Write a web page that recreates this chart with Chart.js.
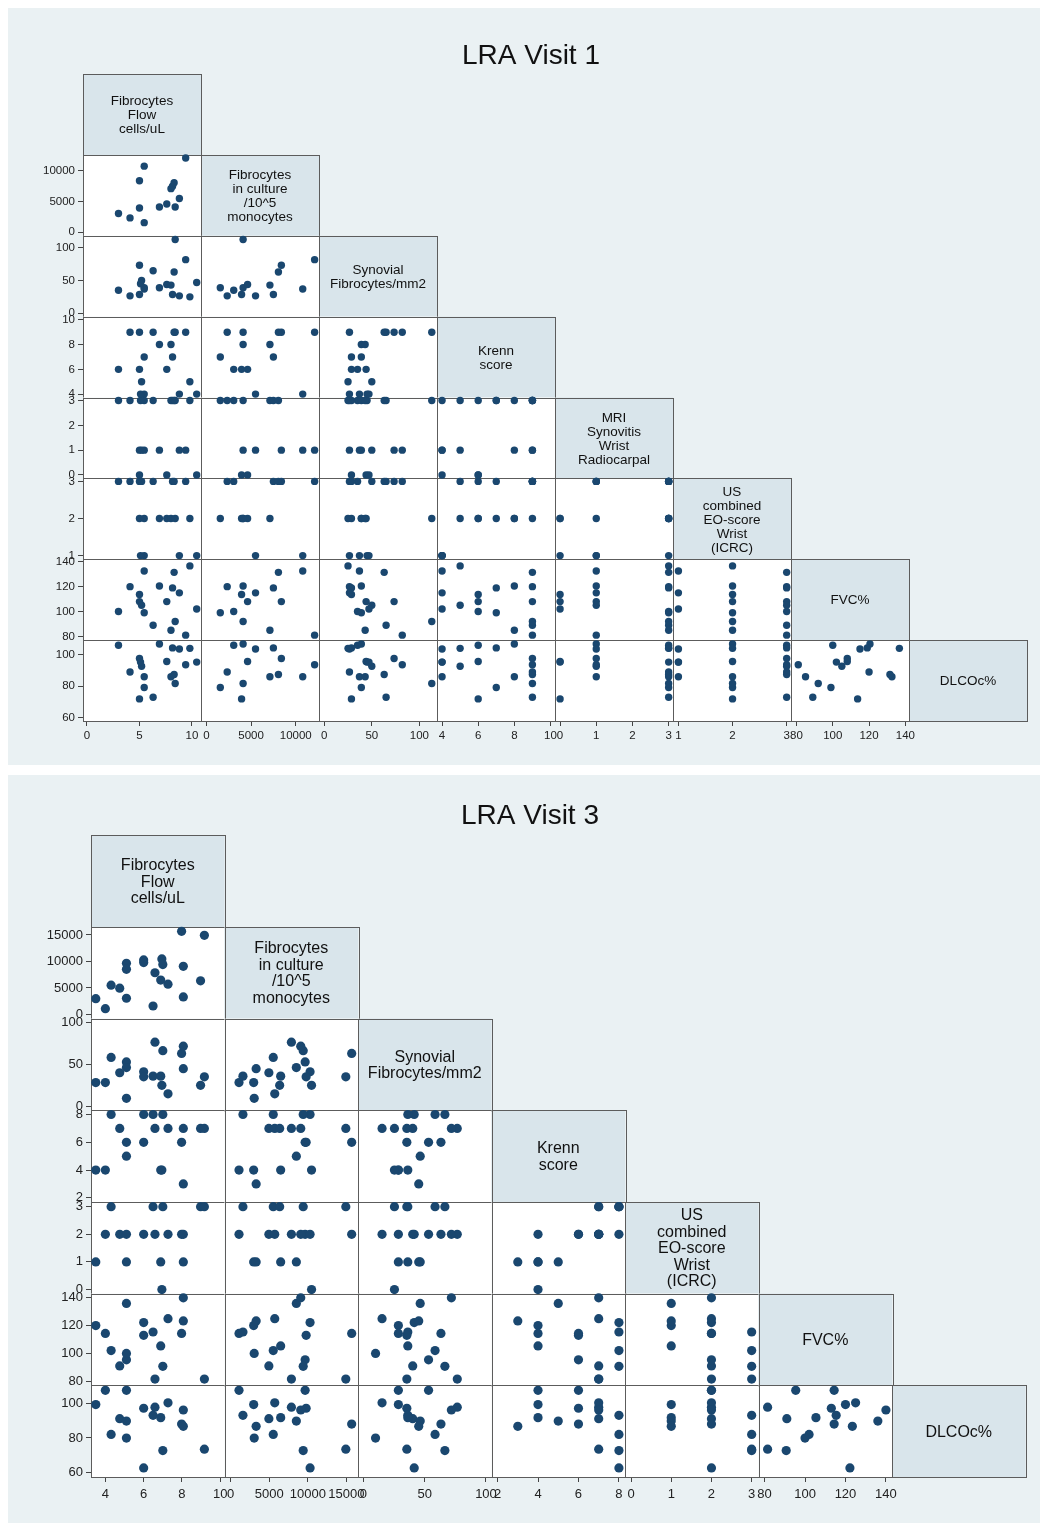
<!DOCTYPE html>
<html>
<head>
<meta charset="utf-8">
<title>LRA Visit 1 / LRA Visit 3</title>
<script src="https://cdn.jsdelivr.net/npm/chart.js@4.4.1/dist/chart.umd.min.js"></script>
<style>
    body { margin: 0; background: #fff; width: 1041px; height: 1523px; overflow: hidden; }
    .panel { position: absolute; left: 8px; width: 1032px; background: #eaf1f3; }
    #p1 { top: 8px; height: 757px; }
    #p2 { top: 775px; height: 748px; }
    canvas { display: block; }
</style>
</head>
<body>
<div class="panel" id="p1"><canvas id="visit1" width="1032" height="757"></canvas></div>
<div class="panel" id="p2"><canvas id="visit3" width="1032" height="748"></canvas></div>
<script>
Chart.defaults.font.family = "'Liberation Sans', Arial, sans-serif";
Chart.defaults.color = '#222';
Chart.defaults.animation = false;

/****************************** LRA Visit 1 ******************************/
// one entry per patient, null = not measured
var v1Names = [
    ['Fibrocytes', 'Flow', 'cells/uL'],
    ['Fibrocytes', 'in culture', '/10^5', 'monocytes'],
    ['Synovial', 'Fibrocytes/mm2'],
    ['Krenn', 'score'],
    ['MRI', 'Synovitis', 'Wrist', 'Radiocarpal'],
    ['US', 'combined', 'EO-score', 'Wrist', '(ICRC)'],
    ['FVC%'],
    ['DLCOc%']
];
var v1Flow     = [3.0, 4.1, 5.0, 5.0, 5.45, 5.45, 5.2, 5.1, 6.3, 6.9, 7.6, 8.0, 8.15, 8.3, 8.4, 8.8, 9.4, 9.8, 10.45];
var v1Culture  = [3060, 2330, 3940, 8390, 10780, 1560, null, null, null, 4110, 4610, 7110, 7500, 8060, 4110, 5500, 12110, null, null];
var v1Synovial = [35, 26.5, 28.6, 73.4, 37, 39, 50, 45, 65, 39, 44, 43, 28.6, 63, 113, 26.5, 82, 25, 47];
var v1Krenn    = [6, 9, 6, 9, 4, 7, 5, 4, 9, 8, 6, 8, 7, 9, 9, 4, 9, 5, 4];
var v1Mri      = [3, 3, 0, 1, 1, 3, 1, 3, 3, 1, 0, 3, 3, 3, 3, 1, 1, 3, 0];
var v1Us       = [3, 3, 2, 3, 1, 2, 3, 1, 3, 2, 2, 2, 3, 3, 2, 1, 3, 2, 1];
var v1Fvc      = [100, 120, 113.7, 108, 132.6, 99, 105, null, 89, 120.5, 108, 85, 119, 131.5, 92, 115, 81, 136.7, 102];
var v1Dlco     = [106, 89, 72, 97.6, 86, 79.2, 92.7, 95.3, 73, 106.8, 95.7, 86, 104.3, 87.4, 81.7, 103.6, 93.6, 104, 95.3];

var v1Ticks  = [[0, 5, 10], [0, 5000, 10000], [0, 50, 100], [4, 6, 8, 10], [0, 1, 2, 3], [1, 2, 3], [80, 100, 120, 140], [60, 80, 100]];
var v1Limits = [[-0.38, 10.86], [-600, 12600], [-5.5, 118.5], [3.72, 10.25], [-0.14, 3.12], [0.9, 3.08], [77, 142], [58, 109.2]];

/****************************** LRA Visit 3 ******************************/
var v3Names = [
    ['Fibrocytes', 'Flow', 'cells/uL'],
    ['Fibrocytes', 'in culture', '/10^5', 'monocytes'],
    ['Synovial', 'Fibrocytes/mm2'],
    ['Krenn', 'score'],
    ['US', 'combined', 'EO-score', 'Wrist', '(ICRC)'],
    ['FVC%'],
    ['DLCOc%']
];
var v3Flow     = [3.5, 4.0, 4.3, 4.75, 5.1, 5.1, 5.1, 6.0, 6.0, 6.49, 6.59, 6.89, 6.95, 7.0, 7.27, 7.98, 8.07, 8.07, 8.97, 9.17];
var v3Culture  = [2980, 1080, 5520, 4950, 9650, 8510, 3050, 10290, 9780, 1590, 7870, 6480, 10480, 9400, 5710, 15680, 9080, 3300, 6350, 14920];
var v3Synovial = [28.6, 28.6, 58.5, 40.3, 53.2, 46.4, 10, 41.5, 35.5, 36.3, 76.6, 36.3, 25.4, 66.5, 15.3, 63.3, 71.8, 45.2, 25.4, 35.5];
var v3Krenn    = [4, 4, 8, 7, 6, 5, null, 8, 6, 8, 7, 4, 4, 8, 7, 6, 7, 3, 7, 7];
var v3Us       = [1, 2, 3, 2, 2, 1, null, 2, null, 3, 2, 1, 0, 3, 2, 2, 2, 1, 3, 3];
var v3Fvc      = [120, 114.4, 102, 91, 95.4, 136, 100, 122.2, 113, 115.4, 81.5, 105.4, null, 90.7, 125, 114.4, 140, 123.4, null, 81.5];
var v3Dlco     = [99.2, 107.4, 82, 91.1, 107.4, 89.7, 79.9, 62.7, 97.1, 93, 97.7, 91.7, null, 72.7, 100.2, 88, 96.1, 86.7, null, 73.5];

var v3Ticks  = [[4, 6, 8, 10], [0, 5000, 10000, 15000], [0, 50, 100], [2, 4, 6, 8], [0, 1, 2, 3], [80, 100, 120, 140], [60, 80, 100]];
var v3Limits = [[3.25, 10.22], [-800, 16500], [-4.3, 104.5], [1.7, 8.3], [-0.15, 3.17], [77, 143], [57.5, 110.3]];

var markerColor = '#1a476f';

/*************************************************************************/

// box of cell (row i, col j) taken from the stacked scales
function cellBox(chart, n, i, j) {
    var colW = chart.scales.x0.right - chart.scales.x0.left;
    var rowH = chart.scales.y1.bottom - chart.scales.y1.top;
    var l = j < n - 1 ? chart.scales['x' + j].left : chart.scales['x' + (n - 2)].right;
    var r = j < n - 1 ? chart.scales['x' + j].right : l + colW;
    var t = i > 0 ? chart.scales['y' + i].top : chart.scales.y1.top - rowH;
    var b = i > 0 ? chart.scales['y' + i].bottom : chart.scales.y1.top;
    return {l: l, t: t, r: r, b: b};
}

// white cells, frames, the grey name boxes and the title
var matrixFrame = {
    id: 'matrixFrame',
    beforeDatasetsDraw: function (chart, args, opts) {
        var ctx = chart.ctx;
        var n = opts.names.length;
        ctx.save();
        ctx.lineWidth = 1;
        ctx.strokeStyle = '#5c5c5c';
        for (var i = 0; i < n; i++) {
            for (var j = 0; j <= i; j++) {
                var c = cellBox(chart, n, i, j);
                ctx.fillStyle = i === j ? '#d9e5eb' : '#ffffff';
                ctx.fillRect(c.l, c.t, c.r - c.l, c.b - c.t);
                ctx.strokeRect(Math.round(c.l) + 0.5, Math.round(c.t) + 0.5, Math.round(c.r - c.l), Math.round(c.b - c.t));
            }
        }
        // variable names on the diagonal
        ctx.fillStyle = '#111';
        ctx.textAlign = 'center';
        ctx.textBaseline = 'middle';
        ctx.font = opts.nameSize + "px 'Liberation Sans', Arial, sans-serif";
        for (var k = 0; k < n; k++) {
            var d = cellBox(chart, n, k, k);
            var lines = opts.names[k];
            var cx = (d.l + d.r) / 2, cy = (d.t + d.b) / 2 + 1;
            for (var m = 0; m < lines.length; m++) {
                ctx.fillText(lines[m], cx, cy + (m - (lines.length - 1) / 2) * opts.lineH);
            }
        }
        ctx.font = "28px 'Liberation Sans', Arial, sans-serif";
        ctx.fillText(opts.title, opts.titleX, opts.titleY);
        ctx.restore();
    }
};

function fixTicks(list) {
    return function (s) {
        s.ticks = list.map(function (v) { return {value: v}; });
    };
}

function matrixScales(ticks, limits, cfg) {
    var n = ticks.length;
    var scales = {};
    var common = function (k, pad) {
        return {
            type: 'linear',
            min: limits[k][0],
            max: limits[k][1],
            afterBuildTicks: fixTicks(ticks[k]),
            grid: {drawOnChartArea: false, drawTicks: true, tickLength: cfg.tickLen, color: '#444'},
            border: {display: true, color: '#555'},
            ticks: {
                autoSkip: false, maxRotation: 0, minRotation: 0, padding: pad,
                color: '#222', font: {size: cfg.tickSize},
                callback: function (v) { return String(v); }
            }
        };
    };
    for (var j = 0; j < n - 1; j++) {
        var sx = common(j, cfg.xPad);
        sx.axis = 'x';
        sx.position = 'bottom';
        sx.stack = 'cols';
        sx.weight = j;
        sx.afterFit = function (s) { s.height = cfg.axisH; };
        scales['x' + j] = sx;
    }
    for (var i = 1; i < n; i++) {
        var sy = common(i, 3);
        sy.axis = 'y';
        sy.position = 'left';
        sy.stack = 'rows';
        sy.weight = n - i;
        sy.afterFit = function (s) { s.width = cfg.axisW; };
        scales['y' + i] = sy;
    }
    return scales;
}

function matrixData(vars, radius) {
    var sets = [];
    for (var i = 1; i < vars.length; i++) {
        for (var j = 0; j < i; j++) {
            var pts = [];
            for (var k = 0; k < vars[0].length; k++) {
                if (vars[j][k] != null && vars[i][k] != null) {
                    pts.push({x: vars[j][k], y: vars[i][k]});
                }
            }
            sets.push({
                data: pts,
                xAxisID: 'x' + j,
                yAxisID: 'y' + i,
                backgroundColor: markerColor,
                borderWidth: 0,
                pointRadius: radius,
                clip: false
            });
        }
    }
    return sets;
}

function drawMatrix(id, names, vars, ticks, limits, cfg) {
    var ctx = document.getElementById(id).getContext('2d');
    return new Chart(ctx, {
        type: 'scatter',
        data: {datasets: matrixData(vars, cfg.radius)},
        options: {
            responsive: false,
            animation: false,
            events: [],
            layout: {autoPadding: false, padding: cfg.padding},
            scales: matrixScales(ticks, limits, cfg),
            plugins: {
                legend: {display: false},
                tooltip: {enabled: false},
                title: {display: false},
                matrixFrame: {
                    names: names, nameSize: cfg.nameSize, lineH: cfg.lineH,
                    title: cfg.title, titleX: cfg.titleX, titleY: cfg.titleY
                }
            }
        },
        plugins: [matrixFrame]
    });
}

var visit1 = drawMatrix('visit1', v1Names,
    [v1Flow, v1Culture, v1Synovial, v1Krenn, v1Mri, v1Us, v1Fvc, v1Dlco],
    v1Ticks, v1Limits,
    {
        padding: {left: 31, top: 147, right: 131, bottom: 22},
        axisW: 44, axisH: 22, tickLen: 5, tickSize: 11.5, xPad: 3,
        radius: 3.7, nameSize: 13.5, lineH: 14,
        title: 'LRA Visit 1', titleX: 523, titleY: 48
    });

var visit3 = drawMatrix('visit3', v3Names,
    [v3Flow, v3Culture, v3Synovial, v3Krenn, v3Us, v3Fvc, v3Dlco],
    v3Ticks, v3Limits,
    {
        padding: {left: 33, top: 152, right: 148, bottom: 22},
        axisW: 50, axisH: 24, tickLen: 5, tickSize: 13, xPad: 5,
        radius: 4.6, nameSize: 16, lineH: 16.5,
        title: 'LRA Visit 3', titleX: 522, titleY: 41
    });
</script>
</body>
</html>
